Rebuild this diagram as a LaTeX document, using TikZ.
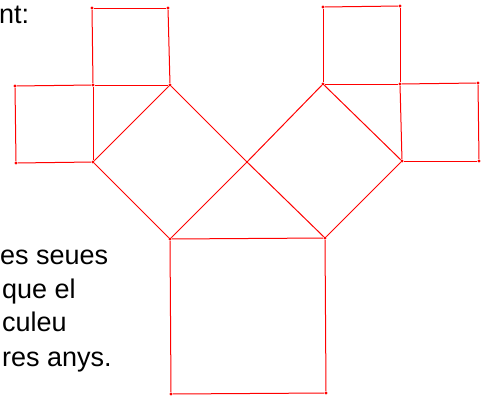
\documentclass[tikz,border=0pt]{standalone}
\usepackage{fontspec}
\setmainfont{Liberation Sans}
\usepackage{tikz}

\begin{document}
\begin{tikzpicture}[x=1pt,y=-1pt,
	vtx/.style={shape=circle,fill=red,inner sep=0pt,minimum size=3.4pt},
	txt/.style={anchor=base west,inner sep=0pt,font=\fontsize{27}{34}\selectfont}]
	\useasboundingbox (0,0) rectangle (489,399);

	\node[txt] (t0) at (-1,23)  {nt:};
	\node[txt] (t1) at (0,264)  {es seues};
	\node[txt] (t2) at (2,298)  {que el};
	\node[txt] (t3) at (2,331)  {culeu};
	\node[txt] (t4) at (2,366)  {res anys.};

	\node[vtx] (a)   at (170,85)  {};
	\node[vtx] (b)   at (93,162)  {};
	\node[vtx] (c)   at (170,239) {};
	\node[vtx] (o)   at (247,162) {};
	\node[vtx] (d)   at (323,84)  {};
	\node[vtx] (e)   at (325,238) {};
	\node[vtx] (f)   at (402,161) {};
	\node[vtx] (p)   at (93,85)   {};
	\node[vtx] (q)   at (400,84)  {};
	\node[vtx] (lt1) at (92,8)    {};
	\node[vtx] (lt2) at (168,8)   {};
	\node[vtx] (ls1) at (15,86)   {};
	\node[vtx] (ls2) at (16,163)  {};
	\node[vtx] (rt1) at (323,7)   {};
	\node[vtx] (rt2) at (400,6)   {};
	\node[vtx] (rs1) at (478,83)  {};
	\node[vtx] (rs2) at (479,161) {};
	\node[vtx] (bs1) at (326,393) {};
	\node[vtx] (bs2) at (171,394) {};

	\tikzset{every path/.style={draw=red,line width=1pt}}
	\path[-] (lt1) edge (lt2);
	\path[-] (lt2) edge (a);
	\path[-] (a) edge (p);
	\path[-] (p) edge (lt1);
	\path[-] (ls1) edge (p);
	\path[-] (p) edge (b);
	\path[-] (b) edge (ls2);
	\path[-] (ls2) edge (ls1);
	\path[-] (a) edge (o);
	\path[-] (o) edge (c);
	\path[-] (c) edge (b);
	\path[-] (b) edge (a);
	\path[-] (d) edge (f);
	\path[-] (f) edge (e);
	\path[-] (e) edge (o);
	\path[-] (o) edge (d);
	\path[-] (rt1) edge (rt2);
	\path[-] (rt2) edge (q);
	\path[-] (q) edge (d);
	\path[-] (d) edge (rt1);
	\path[-] (q) edge (rs1);
	\path[-] (rs1) edge (rs2);
	\path[-] (rs2) edge (f);
	\path[-] (f) edge (q);
	\path[-] (c) edge (e);
	\path[-] (e) edge (bs1);
	\path[-] (bs1) edge (bs2);
	\path[-] (bs2) edge (c);
\end{tikzpicture}
\end{document}
